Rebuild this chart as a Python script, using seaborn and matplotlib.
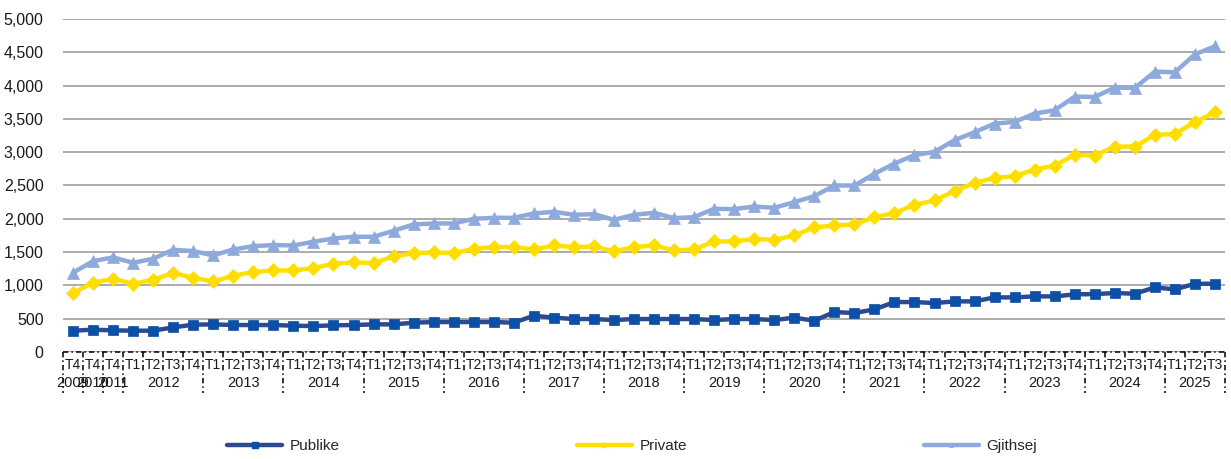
import numpy as np
import pandas as pd
import matplotlib
matplotlib.use("Agg")
import matplotlib.pyplot as plt
import matplotlib.transforms as mtransforms
from matplotlib.lines import Line2D
from matplotlib.ticker import FuncFormatter, MultipleLocator
import seaborn as sns

# ---------------- data ----------------
quarters = ["T4", "T4", "T4"] + ["T1", "T2", "T3", "T4"] * 13 + ["T1", "T2", "T3"]
years = ["2009", "2010", "2011"] + [str(y) for y in range(2012, 2025) for _ in range(4)] + ["2025"] * 3

publike = [320, 335, 325, 320, 320, 370, 410, 415, 405, 405,
           405, 395, 390, 400, 405, 415, 415, 440, 450, 450,
           450, 450, 440, 545, 515, 495, 495, 480, 495, 495,
           495, 495, 480, 495, 495, 480, 515, 470, 600, 585,
           640, 750, 750, 735, 760, 760, 820, 820, 835, 835,
           865, 870, 885, 875, 970, 940, 1025, 1025]
private = [885, 1040, 1100, 1025, 1085, 1185, 1115, 1060, 1145, 1200,
           1225, 1225, 1260, 1325, 1345, 1335, 1435, 1485, 1495, 1485,
           1550, 1575, 1575, 1540, 1600, 1575, 1585, 1510, 1575, 1600,
           1525, 1540, 1660, 1660, 1700, 1685, 1750, 1870, 1900, 1915,
           2025, 2085, 2210, 2275, 2415, 2540, 2615, 2640, 2740, 2800,
           2960, 2950, 3085, 3085, 3260, 3275, 3450, 3600]
gjithsej = [1190, 1365, 1420, 1340, 1400, 1535, 1515, 1450, 1540, 1590,
            1605, 1600, 1655, 1705, 1730, 1730, 1820, 1915, 1930, 1930,
            2000, 2015, 2015, 2080, 2105, 2060, 2070, 1985, 2060, 2090,
            2010, 2025, 2150, 2145, 2185, 2165, 2250, 2340, 2500, 2500,
            2675, 2830, 2955, 3005, 3180, 3300, 3430, 3455, 3580, 3630,
            3835, 3830, 3970, 3965, 4210, 4200, 4470, 4590]

series_names = ["Publike", "Private", "Gjithsej"]
line_colors = {"Publike": "#2E4A8E", "Private": "#FFE100", "Gjithsej": "#8EA9DC"}
marker_colors = {"Publike": "#0B4FA6", "Private": "#FFDD00", "Gjithsej": "#8EA9DC"}
markers = {"Publike": "s", "Private": "D", "Gjithsej": "^"}
marker_sizes = {"Publike": 7.5, "Private": 7.5, "Gjithsej": 9}

n = len(quarters)
df = pd.DataFrame({
    "idx": list(range(n)) * 3,
    "value": publike + private + gjithsej,
    "series": ["Publike"] * n + ["Private"] * n + ["Gjithsej"] * n,
})

# ---------------- figure ----------------
sns.set_theme(style="white")
plt.rcParams["font.family"] = ["Liberation Sans", "DejaVu Sans"]

fig = plt.figure(figsize=(12.31, 4.59), dpi=100)
ax = fig.add_axes([63 / 1231, 1 - 352 / 459, (1225 - 63) / 1231, (352 - 19) / 459])

for name in series_names:
    sub = df[df["series"] == name]
    sns.lineplot(data=sub, x="idx", y="value", ax=ax, color=line_colors[name],
                 linewidth=3.2, marker=markers[name], markersize=marker_sizes[name],
                 markerfacecolor=marker_colors[name], markeredgecolor=marker_colors[name],
                 markeredgewidth=0.5, legend=False, zorder=3)

ax.set_xlim(-0.5, n - 0.5)
ax.set_ylim(0, 5000)
ax.yaxis.set_major_locator(MultipleLocator(500))
ax.yaxis.set_major_formatter(FuncFormatter(lambda v, p: f"{int(v):,}"))
ax.set_xlabel("")
ax.set_ylabel("")
for s in ax.spines.values():
    s.set_visible(False)

ax.grid(axis="y", color="#A6A6A6", linewidth=1.3)
ax.grid(axis="x", visible=False)
ax.set_axisbelow(True)
fig.canvas.draw()
ax.yaxis.get_gridlines()[0].set_visible(False)

ax.tick_params(axis="y", length=0, pad=14, labelsize=11.5, labelcolor="#1a1a1a")
ax.set_xticks(range(n))
ax.set_xticklabels(quarters)
ax.tick_params(axis="x", length=0, pad=4, labelsize=10, labelcolor="#1a1a1a")

# dash-dot category axis
trans = mtransforms.blended_transform_factory(ax.transData, ax.transAxes)
dd = (0, (3.5, 2, 1, 2))
ax.plot([-0.5, n - 0.5], [0, 0], transform=trans, color="black", lw=1.1,
        linestyle=dd, clip_on=False, zorder=4)
# group boundaries (years)
bounds = [0]
for i in range(1, n):
    if years[i] != years[i - 1]:
        bounds.append(i)
bounds.append(n)
short = 20 / 333
long_ = 41 / 333
for b in range(n + 1):
    length = long_ if b in bounds else short
    ax.plot([b - 0.5, b - 0.5], [0, -length], transform=trans, color="black",
            lw=1.1, linestyle=dd, clip_on=False)
for a, b in zip(bounds[:-1], bounds[1:]):
    ax.text((a + b - 1) / 2, -31 / 333, years[a], transform=trans, ha="center",
            va="center", fontsize=10.5, color="#1a1a1a")

# legend
handles = [Line2D([0], [0], color=line_colors[nm], lw=3.2, marker=markers[nm],
                  markersize={"Publike": 5, "Private": 2.5, "Gjithsej": 2.5}[nm],
                  markerfacecolor=marker_colors[nm], markeredgecolor=marker_colors[nm])
           for nm in series_names]
fig.legend(handles, series_names, loc="center", bbox_to_anchor=(632 / 1231, 1 - 446 / 459),
           ncol=3, frameon=False, fontsize=11, handlelength=3.6, columnspacing=15.5,
           handletextpad=0.5)

fig.savefig("out.png", dpi=100)
